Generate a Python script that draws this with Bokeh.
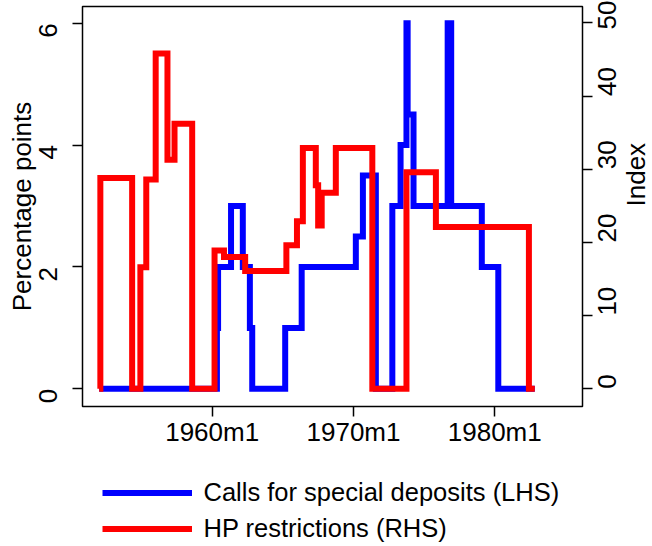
import math
from bokeh.plotting import figure
from bokeh.layouts import column
from bokeh.models import Range1d, LinearAxis, FixedTicker, Legend, LegendItem
from bokeh.embed import file_html
from bokeh.resources import INLINE

# calls for special deposits, percentage points (change points, monthly)
spd_dates = ["1952m1", "1960m5", "1960m6", "1961m5", "1962m3", "1962m9", "1962m11",
             "1965m3", "1966m5", "1970m3", "1970m9", "1971m8", "1972m10", "1973m5",
             "1973m10", "1973m11", "1974m4", "1976m9", "1976m12", "1979m2", "1980m4",
             "1982m11"]
spd_values = [0, 1, 2, 3, 2, 1, 0,
              1, 2, 2.5, 3.5, 0, 3, 4,
              6, 4.5, 3, 6, 3, 2, 0,
              0]

# HP restrictions index (change points, monthly)
hp_dates = ["1952m1", "1952m2", "1954m5", "1954m12", "1955m5", "1956m1", "1956m11",
            "1957m5", "1958m8", "1960m3", "1960m11", "1962m5", "1965m4", "1966m1",
            "1966m6", "1967m5", "1967m7", "1967m10", "1968m10", "1971m5", "1973m10",
            "1975m11", "1982m6", "1982m11"]
hp_values = [0, 28.8, 0, 16.6, 28.6, 45.8, 31.3,
             36.2, 0, 18.9, 18.0, 16.1, 19.6, 22.9,
             32.9, 27.8, 22.3, 26.8, 32.9, 0, 29.6,
             22.1, 0, 0]

x_tick_labels = ["1960m1", "1970m1", "1980m1"]
left_ticks = [0, 2, 4, 6]
right_ticks = [0, 10, 20, 30, 40, 50]

FONT = "Liberation Sans"
BLUE = "#0000ff"
RED = "#ff0000"


def monthly(s):
    y, m = s.split("m")
    return int(y) + (int(m) - 1) / 12


spd_x = [monthly(d) for d in spd_dates]
hp_x = [monthly(d) for d in hp_dates]
x_ticks = [monthly(d) for d in x_tick_labels]

p = figure(width=652, height=446, frame_width=500, frame_height=400,
           output_backend="svg", toolbar_location=None,
           x_range=Range1d(1950.82, 1986.21), y_range=Range1d(-0.29, 6.274),
           min_border_left=82, min_border_right=70, min_border_top=6, min_border_bottom=40)
p.extra_y_ranges = {"idx": Range1d(-2.42, 52.23)}
p.grid.visible = False
p.background_fill_color = "white"
p.border_fill_color = "white"
p.outline_line_color = "black"
p.outline_line_width = 1.5


def style_axis(ax):
    ax.axis_line_color = None
    ax.major_tick_out = 10
    ax.major_tick_in = 0
    ax.major_tick_line_width = 1.5
    ax.major_tick_line_color = "black"
    ax.minor_tick_line_color = None
    ax.major_label_text_font = FONT
    ax.major_label_text_font_size = "26px"
    ax.major_label_text_color = "black"
    ax.axis_label_text_font = FONT
    ax.axis_label_text_font_size = "26px"
    ax.axis_label_text_font_style = "normal"
    ax.axis_label_text_color = "black"


xa = p.xaxis[0]
style_axis(xa)
xa.ticker = FixedTicker(ticks=x_ticks)
xa.major_label_overrides = {t: lab for t, lab in zip(x_ticks, x_tick_labels)}
xa.major_label_standoff = 0

ya = p.yaxis[0]
style_axis(ya)
ya.ticker = FixedTicker(ticks=left_ticks)
ya.major_label_orientation = math.pi / 2
ya.axis_label = "Percentage points"
ya.major_label_standoff = 24
ya.axis_label_standoff = -9

ra = LinearAxis(y_range_name="idx", axis_label="Index")
style_axis(ra)
ra.ticker = FixedTicker(ticks=right_ticks)
ra.major_label_orientation = math.pi / 2
ra.axis_label_orientation = math.pi / 2
ra.major_label_standoff = 15
ra.axis_label_standoff = 7
p.add_layout(ra, "right")

p.step(spd_x, spd_values, mode="after", line_color=BLUE, line_width=6, line_join="miter")
p.step(hp_x, hp_values, mode="after", line_color=RED, line_width=6, line_join="miter",
       y_range_name="idx")

# legend strip under the chart (its own step renderers sit outside its empty frame)
lf = figure(width=652, height=100, output_backend="svg", toolbar_location=None,
            x_range=Range1d(0, 1), y_range=Range1d(0, 1),
            min_border=0)
lf.axis.visible = False
lf.grid.visible = False
lf.outline_line_color = None
lf.border_fill_color = "white"
lf_spd = lf.step(spd_x, spd_values, mode="after", line_color=BLUE, line_width=6)
lf_hp = lf.step(hp_x, hp_values, mode="after", line_color=RED, line_width=6)

legend = Legend(items=[LegendItem(label="Calls for special deposits (LHS)", renderers=[lf_spd]),
                       LegendItem(label="HP restrictions (RHS)", renderers=[lf_hp])],
                location=(19.5, 5), orientation="vertical", margin=0, padding=2,
                glyph_width=90, glyph_height=31, label_standoff=12, spacing=5,
                label_text_font=FONT, label_text_font_size="25.5px",
                label_text_color="black",
                border_line_color=None, background_fill_alpha=0)
lf.add_layout(legend)

open("out.html", "w").write(file_html(column(p, lf), INLINE))
